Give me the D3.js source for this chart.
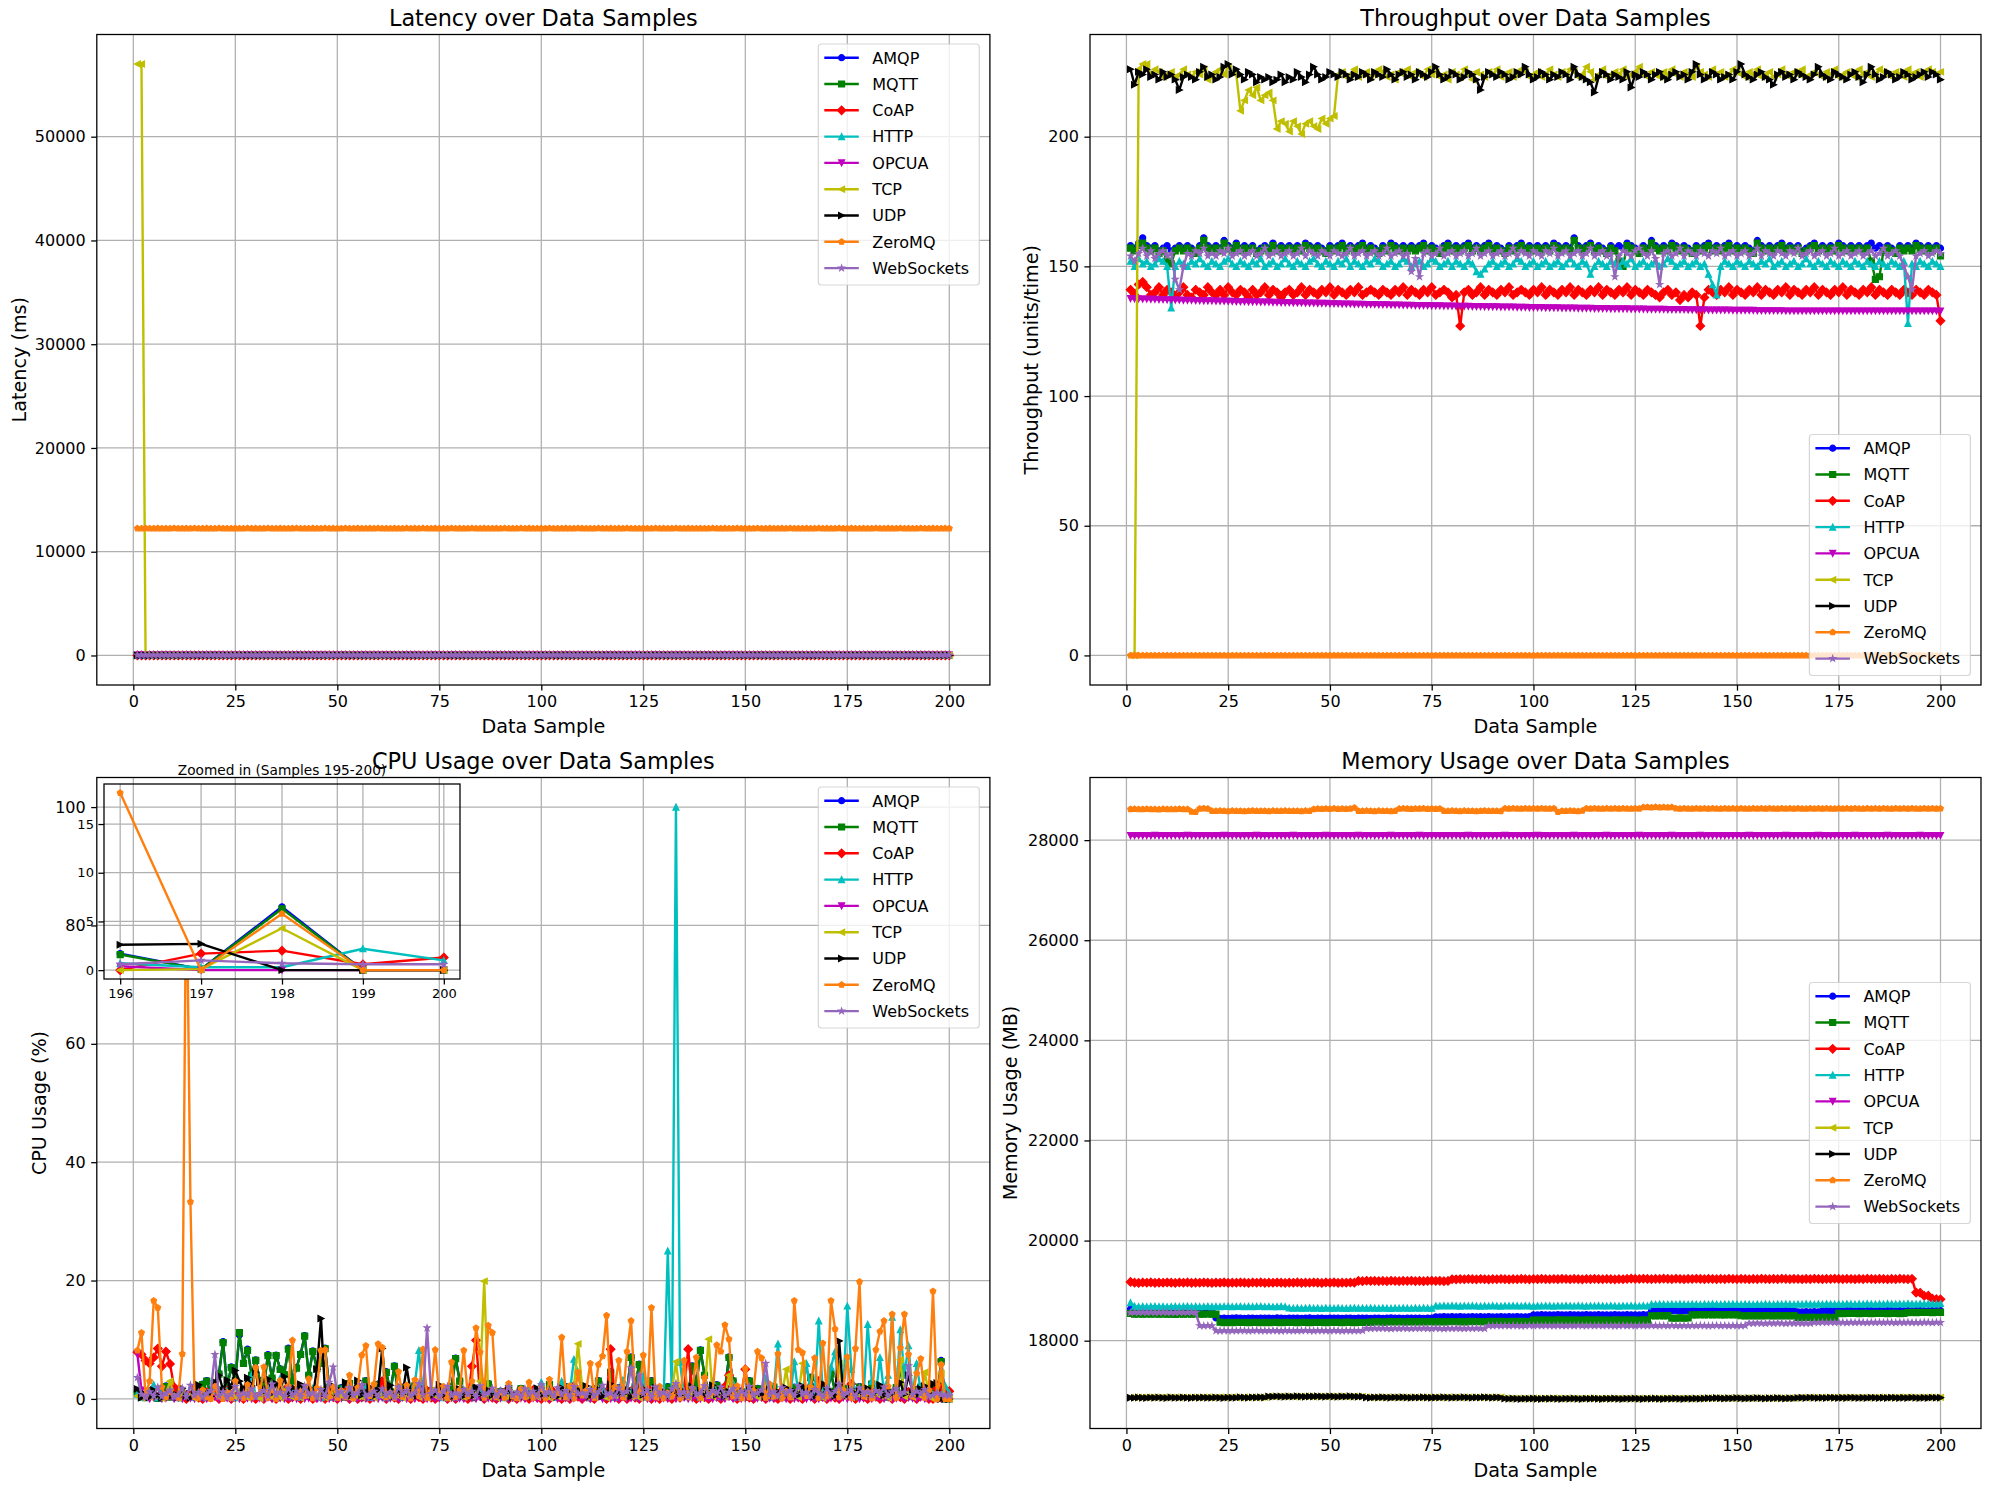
<!DOCTYPE html>
<html>
<head>
<meta charset="utf-8">
<script src="https://cdn.jsdelivr.net/npm/d3@7"></script>
<style>
  body { margin: 0; background: #fff; }
  svg { display: block; font-family: "DejaVu Sans", sans-serif; }
</style>
</head>
<body>
<svg id="chart" width="1990" height="1490"></svg>
<script>
// ---------- categories / ticks ----------
const protocols = ["AMQP", "MQTT", "CoAP", "HTTP", "OPCUA", "TCP", "UDP", "ZeroMQ", "WebSockets"];
const protoColors = ["#0000ff", "#008000", "#ff0000", "#00bfbf", "#bf00bf", "#bfbf00", "#000000", "#ff7f0e", "#9467bd"];
const protoMarkers = ["o", "s", "D", "^", "v", "<", ">", "p", "*"];
const xTicks = [0, 25, 50, 75, 100, 125, 150, 175, 200];
const latencyTicks = [0, 10000, 20000, 30000, 40000, 50000];
const throughputTicks = [0, 50, 100, 150, 200];
const cpuTicks = [0, 20, 40, 60, 80, 100];
const memoryTicks = [18000, 20000, 22000, 24000, 26000, 28000];
const insetXTicks = [196, 197, 198, 199, 200];
const insetYTicks = [0, 5, 10, 15];

// ---------- latency (ms) ----------
const latAMQP = [21,19,23,18,22,20,24,19,21,23,18,22,20,19,24,21,18,23,20,22,
19,21,24,18,20,23,19,22,21,18,24,20,19,23,21,22,18,20,24,19,
22,21,18,23,20,19,24,22,18,21,23,19,20,22,18,24,21,19,23,20,
18,22,21,24,19,20,23,18,22,21,19,24,20,18,23,22,19,21,20,24,
21,18,23,20,22,19,24,21,18,20,23,22,19,21,24,18,20,22,19,23,
20,24,18,21,22,19,23,20,18,24,21,22,19,20,23,18,21,24,19,22,
23,19,21,20,24,18,22,23,19,21,20,18,24,22,19,23,21,20,18,22,
19,24,20,21,23,18,22,19,24,20,21,23,18,22,20,19,24,21,18,23,
22,20,19,24,21,18,23,22,20,19,21,24,18,23,20,22,19,21,24,18,
20,23,21,19,22,24,18,20,23,21,19,22,24,20,18,21,23,19,22,20];
const latMQTT = [15,17,14,16,18,15,13,17,16,14,18,15,17,13,16,14,18,15,17,16,
14,16,18,15,13,17,16,14,18,15,17,13,16,15,14,18,17,15,13,16,
18,14,16,17,15,13,18,16,14,17,15,16,13,18,14,17,15,16,18,14,
13,17,15,16,18,14,17,13,16,15,18,14,17,16,13,15,18,16,14,17,
16,13,18,15,17,14,16,18,13,15,17,16,14,18,15,13,17,16,14,18,
15,17,14,16,13,18,15,17,16,14,18,13,15,17,16,14,18,15,13,17,
14,16,18,15,17,13,16,14,18,15,17,16,13,18,14,15,17,16,18,13,
17,15,14,18,16,13,17,15,16,14,18,17,13,15,16,18,14,17,15,13,
16,18,15,13,17,14,16,18,15,17,13,16,14,18,15,17,16,13,18,14,
15,13,17,16,14,18,15,17,13,16,14,18,15,16,17,13,18,14,16,15];
const latCoAP = [9,11,8,10,12,9,11,10,8,12,9,10,11,8,12,10,9,11,8,10,
12,9,11,10,8,12,9,10,11,8,10,12,9,11,8,10,9,12,11,8,
10,9,11,12,8,10,9,11,8,12,10,11,9,8,12,10,9,11,10,8,
11,12,9,10,8,11,12,9,10,8,11,9,12,10,8,11,9,10,12,8,
9,11,10,8,12,9,11,10,8,12,9,10,11,8,12,10,9,11,8,10,
12,9,11,10,8,12,9,10,11,8,10,12,9,11,8,10,9,12,11,8,
10,9,11,12,8,10,9,11,8,12,10,11,9,8,12,10,9,11,10,8,
11,12,9,10,8,11,12,9,10,8,11,9,12,10,8,11,9,10,12,8,
9,10,12,11,8,9,10,11,12,8,10,9,11,8,12,9,10,11,8,12,
10,11,9,8,12,10,9,11,8,10,12,9,11,10,8,12,9,10,11,9];
const latHTTP = [34,31,36,33,30,35,32,37,31,34,33,36,30,35,32,34,31,37,33,30,
36,32,34,31,35,33,30,37,32,34,31,36,33,35,30,32,37,34,31,33,
35,30,36,32,34,33,31,37,30,35,32,34,36,31,33,30,35,32,37,34,
31,33,36,30,34,32,35,31,37,33,30,34,36,32,31,35,33,30,37,34,
32,36,31,33,35,30,34,32,37,31,36,33,30,35,32,34,31,36,33,30,
35,32,37,34,31,33,36,30,34,32,35,31,37,33,30,34,36,32,31,35,
33,30,37,34,32,36,31,33,35,30,34,32,37,31,36,33,30,35,32,34,
31,36,33,30,35,32,37,34,31,33,36,30,34,32,35,31,37,33,30,34,
36,32,31,35,33,30,37,34,32,36,31,33,35,30,34,32,37,31,36,33,
30,35,32,34,31,36,33,30,35,32,37,34,31,33,36,30,34,32,35,33];
const latOPCUA = [27,25,28,26,24,29,27,25,28,26,24,27,29,25,26,28,24,27,25,29,
26,28,24,27,25,29,26,28,27,24,25,29,26,27,28,24,25,27,29,26,
28,24,27,25,26,29,28,24,25,27,26,29,24,28,25,27,26,24,29,28,
25,27,26,28,24,29,25,27,28,26,24,29,27,25,28,26,24,27,29,25,
26,28,24,27,25,29,26,28,27,24,25,29,26,27,28,24,25,27,29,26,
28,24,27,25,26,29,28,24,25,27,26,29,24,28,25,27,26,24,29,28,
25,27,26,28,24,29,25,27,28,26,24,29,27,25,28,26,24,27,29,25,
26,28,24,27,25,29,26,28,27,24,25,29,26,27,28,24,25,27,29,26,
28,24,27,25,26,29,28,24,25,27,26,29,24,28,25,27,26,24,29,28,
25,27,26,28,24,29,25,27,28,26,24,29,27,25,28,26,24,27,29,25];
const latTCP = [57000,57000,14,12,15,13,11,16,14,12,15,13,11,14,16,12,13,15,11,14,
12,16,13,15,11,14,12,13,16,15,11,14,12,16,13,11,15,14,12,13,
16,11,14,12,15,13,16,11,14,12,13,15,11,16,14,12,15,13,11,14,
13,15,11,14,16,12,13,15,11,14,12,16,13,15,11,14,12,13,16,15,
11,14,12,16,13,11,15,14,12,13,16,11,14,12,15,13,16,11,14,12,
13,15,11,16,14,12,15,13,11,14,13,15,11,14,16,12,13,15,11,14,
12,16,13,15,11,14,12,13,16,15,11,14,12,16,13,11,15,14,12,13,
16,11,14,12,15,13,16,11,14,12,13,15,11,16,14,12,15,13,11,14,
13,15,11,14,16,12,13,15,11,14,12,16,13,15,11,14,12,13,16,15,
11,14,12,16,13,11,15,14,12,13,16,11,14,12,15,13,16,11,14,12];
const latUDP = [6,8,5,7,9,6,8,7,5,9,6,7,8,5,9,7,6,8,5,7,
9,6,8,7,5,9,6,7,8,5,7,9,6,8,5,7,6,9,8,5,
7,6,8,9,5,7,6,8,5,9,7,8,6,5,9,7,6,8,7,5,
8,9,6,7,5,8,9,6,7,5,8,6,9,7,5,8,6,7,9,5,
6,8,7,5,9,6,8,7,5,9,6,7,8,5,9,7,6,8,5,7,
9,6,8,7,5,9,6,7,8,5,7,9,6,8,5,7,6,9,8,5,
7,6,8,9,5,7,6,8,5,9,7,8,6,5,9,7,6,8,7,5,
8,9,6,7,5,8,9,6,7,5,8,6,9,7,5,8,6,7,9,5,
6,7,9,8,5,6,7,8,9,5,7,6,8,5,9,6,7,8,5,9,
7,8,6,5,9,7,6,8,5,7,9,6,8,7,5,9,6,7,8,6];
const latZeroMQ = [12252,12248,12255,12250,12246,12253,12249,12251,12247,12254,12250,12248,12252,12246,12255,12249,12251,12253,12247,12250,
12254,12248,12251,12246,12253,12250,12249,12255,12247,12252,12248,12251,12254,12246,12250,12253,12249,12247,12252,12255,
12248,12250,12246,12253,12251,12249,12255,12247,12252,12248,12250,12254,12246,12251,12253,12249,12247,12252,12250,12255,
12246,12251,12248,12253,12250,12247,12254,12249,12252,12246,12255,12250,12248,12253,12251,12247,12249,12254,12246,12252,
12250,12248,12255,12251,12247,12253,12249,12246,12252,12250,12254,12248,12251,12247,12255,12249,12253,12246,12250,12252,
12248,12254,12250,12247,12251,12253,12246,12249,12255,12252,12248,12250,12247,12254,12251,12246,12253,12249,12252,12250,
12255,12247,12251,12248,12253,12250,12246,12254,12249,12252,12247,12251,12255,12248,12250,12253,12246,12249,12252,12251,
12247,12254,12250,12248,12253,12246,12251,12255,12249,12252,12250,12247,12254,12248,12251,12253,12246,12250,12252,12249,
12255,12248,12251,12247,12253,12250,12246,12254,12249,12252,12248,12251,12255,12247,12250,12253,12246,12249,12252,12250,
12248,12254,12251,12247,12253,12250,12246,12255,12249,12252,12248,12250,12254,12247,12251,12253,12246,12249,12252,12250];
const latWebSockets = [41,38,43,40,37,42,39,44,38,41,40,43,37,42,39,41,38,44,40,37,
43,39,41,38,42,40,37,44,39,41,38,43,40,42,37,39,44,41,38,40,
42,37,43,39,41,40,38,44,37,42,39,41,43,38,40,37,42,39,44,41,
38,40,43,37,41,39,42,38,44,40,37,41,43,39,38,42,40,37,44,41,
39,43,38,40,42,37,41,39,44,38,43,40,37,42,39,41,38,43,40,37,
42,39,44,41,38,40,43,37,41,39,42,38,44,40,37,41,43,39,38,42,
40,37,44,41,39,43,38,40,42,37,41,39,44,38,43,40,37,42,39,41,
38,43,40,37,42,39,44,41,38,40,43,37,41,39,42,38,44,40,37,41,
43,39,38,42,40,37,44,41,39,43,38,40,42,37,41,39,44,38,43,40,
37,42,39,41,38,43,40,37,42,39,44,41,38,40,43,37,41,39,42,40];

// ---------- throughput (units/time) ----------
const tpAMQP = [158,157,159,161,158,157,158,156,157,158,156,157,158,157,158,157,156,158,161,158,
157,158,157,160,158,157,159,157,158,157,158,156,157,158,157,159,157,158,157,158,
157,158,157,159,158,157,158,157,156,158,157,158,159,157,158,157,158,159,157,158,
157,156,158,157,159,158,157,158,157,158,157,158,159,157,158,157,156,158,159,157,
158,157,158,159,157,158,157,158,159,157,158,157,156,158,157,158,159,157,158,157,
158,157,158,157,159,158,157,158,157,161,158,157,158,159,157,158,157,156,158,157,
158,157,159,158,157,156,158,157,160,158,157,158,157,159,158,157,158,157,156,158,
157,158,159,157,158,157,158,159,157,158,157,158,157,156,160,158,157,158,157,158,
159,157,158,157,158,156,157,158,159,157,158,157,158,157,159,158,157,158,157,158,
157,158,159,157,158,157,158,157,156,158,157,158,157,159,158,157,158,157,158,157];
const tpMQTT = [157,156,158,159,157,156,157,155,156,152,151,156,157,156,157,156,155,157,160,157,
156,157,156,159,157,156,158,156,157,156,157,155,156,157,156,158,156,157,156,157,
156,157,156,158,157,156,157,156,155,157,156,157,158,156,157,156,157,158,156,157,
156,155,157,156,158,157,156,157,156,157,156,157,158,156,157,156,155,157,158,156,
157,156,157,158,156,157,156,157,158,156,157,156,155,157,156,157,158,156,157,156,
157,156,157,156,158,157,156,157,156,160,157,156,157,158,156,157,156,155,157,156,
152,150,158,157,156,155,157,156,159,157,156,157,156,158,157,156,157,156,155,157,
156,157,158,156,157,156,157,158,156,157,156,157,156,155,159,157,156,157,156,157,
158,156,157,156,157,155,156,157,158,156,157,156,157,156,158,157,156,157,156,157,
156,157,152,145,146,156,157,156,155,157,156,157,156,158,157,156,157,156,157,154];
const tpCoAP = [141,139,143,144,142,139,140,142,139,141,140,138,140,142,139,138,141,140,139,142,
140,139,141,139,142,140,139,141,140,138,141,139,140,142,139,141,140,138,140,141,
139,140,142,139,141,140,139,141,140,142,139,141,140,139,141,140,142,139,140,141,
140,139,141,140,139,141,140,142,139,141,140,139,141,140,142,139,140,141,140,138,
139,127,140,141,139,140,142,139,141,140,139,141,140,142,139,140,141,140,139,141,
140,142,139,141,140,139,141,140,142,139,141,140,139,141,140,142,139,141,140,139,
141,140,142,139,141,140,139,141,140,139,138,140,141,139,140,137,139,138,140,139,
127,138,141,140,139,141,140,142,139,141,140,139,141,140,142,139,141,140,139,141,
140,142,139,141,140,139,141,140,142,139,141,140,139,141,140,142,139,141,140,139,
141,140,142,139,141,140,139,141,140,139,141,140,139,141,140,139,141,140,139,129];
const tpHTTP = [152,150,153,151,152,150,151,153,152,150,134,150,152,151,150,152,151,153,151,150,
152,151,150,152,153,151,150,152,151,150,152,151,153,150,151,152,150,151,153,151,
150,152,151,150,152,153,151,150,152,151,150,152,151,153,150,152,151,150,152,151,
153,152,150,151,152,150,151,153,152,150,151,152,150,151,153,152,150,151,152,150,
152,151,150,152,151,148,147,149,151,152,150,151,152,150,151,153,152,150,151,152,
150,151,152,150,151,152,150,151,153,151,150,152,151,147,150,152,151,150,152,151,
150,152,151,153,150,151,152,150,151,152,150,151,153,152,150,151,152,150,151,152,
150,151,147,143,139,150,152,151,150,152,151,150,152,151,150,152,151,153,150,151,
152,150,151,152,150,151,153,151,150,152,151,150,152,151,150,152,151,150,152,151,
150,152,151,150,152,151,150,152,151,150,152,128,151,150,152,151,150,152,151,150];
const tpOPCUA = [137.6,137.5,137.5,137.4,137.4,137.3,137.3,137.2,137.2,137.1,137.1,137.0,137.0,136.9,136.9,136.9,136.8,136.8,136.7,136.7,
136.7,136.6,136.6,136.6,136.5,136.5,136.4,136.4,136.4,136.3,136.3,136.3,136.2,136.2,136.2,136.1,136.1,136.0,136.0,136.0,
135.9,135.9,135.9,135.8,135.8,135.8,135.7,135.7,135.7,135.6,135.6,135.6,135.5,135.5,135.5,135.4,135.4,135.4,135.3,135.3,
135.3,135.2,135.2,135.2,135.1,135.1,135.1,135.0,135.0,135.0,134.9,134.9,134.9,134.9,134.8,134.8,134.8,134.7,134.7,134.7,
134.6,134.6,134.6,134.6,134.5,134.5,134.5,134.4,134.4,134.4,134.4,134.3,134.3,134.3,134.3,134.2,134.2,134.2,134.1,134.1,
134.1,134.1,134.0,134.0,134.0,134.0,133.9,133.9,133.9,133.9,133.8,133.8,133.8,133.8,133.7,133.7,133.7,133.7,133.6,133.6,
133.6,133.6,133.6,133.5,133.5,133.5,133.5,133.4,133.4,133.4,133.4,133.4,133.3,133.3,133.3,133.3,133.3,133.2,133.2,133.2,
133.2,133.2,133.1,133.1,133.1,133.1,133.1,133.1,133.0,133.0,133.0,133.0,133.0,133.0,132.9,132.9,132.9,132.9,132.9,132.9,
132.9,132.8,132.8,132.8,132.8,132.8,132.8,132.8,132.8,132.8,132.8,132.8,132.8,132.8,132.8,132.8,132.8,132.8,132.8,132.8,
132.8,132.8,132.8,132.8,132.8,132.8,132.8,132.8,132.8,132.8,132.8,132.8,132.8,132.8,132.8,132.8,132.8,132.8,132.8,132.8];
const tpTCP = [0,0,226,228,228,224,226,225,223,224,225,223,224,226,224,223,225,224,226,222,
223,225,226,224,227,225,224,210,214,218,216,219,214,216,217,214,203,206,205,202,
206,204,201,205,206,204,203,207,205,207,208,224,225,223,224,226,223,224,225,223,
224,226,225,223,224,222,225,224,226,223,225,224,223,226,224,225,223,224,222,225,
224,223,226,224,222,225,224,223,225,224,226,223,224,225,223,224,226,225,223,224,
225,223,224,226,224,223,225,224,226,225,223,224,227,225,222,224,226,223,224,225,
224,226,223,224,225,227,224,223,225,224,223,225,224,226,224,223,225,224,223,227,
225,224,223,226,224,225,223,224,226,225,224,223,225,224,226,223,224,225,223,224,
226,224,223,225,224,226,223,224,225,224,223,225,224,226,223,224,225,224,223,226,
224,225,223,224,226,225,224,223,225,224,223,226,224,225,223,224,226,225,224,225];
const tpUDP = [226,220,225,224,226,223,224,222,225,223,224,222,218,223,224,223,222,225,227,223,
224,222,223,227,228,224,226,224,222,225,224,221,223,222,223,221,222,224,221,223,
222,225,223,221,224,227,224,222,223,225,224,223,225,224,222,224,223,225,224,222,
225,224,223,226,224,222,224,225,223,224,222,225,224,223,225,227,224,222,223,225,
224,222,223,225,224,222,218,223,225,224,223,225,224,222,223,225,224,227,224,222,
223,225,224,222,224,223,225,224,222,227,224,223,222,221,217,223,225,224,222,224,
223,222,225,219,224,223,225,224,222,224,225,223,222,224,225,223,224,222,225,228,
224,222,223,225,224,222,223,224,222,225,228,224,223,222,224,225,223,222,220,224,
225,223,224,222,225,224,223,222,224,227,224,223,222,225,224,223,222,224,225,223,
221,224,227,224,222,223,225,224,222,223,225,224,222,223,224,225,223,225,224,222];
const tpZeroMQ = [0,0,0,0,0,0,0,0,0,0,0,0,0,0,0,0,0,0,0,0,
0,0,0,0,0,0,0,0,0,0,0,0,0,0,0,0,0,0,0,0,
0,0,0,0,0,0,0,0,0,0,0,0,0,0,0,0,0,0,0,0,
0,0,0,0,0,0,0,0,0,0,0,0,0,0,0,0,0,0,0,0,
0,0,0,0,0,0,0,0,0,0,0,0,0,0,0,0,0,0,0,0,
0,0,0,0,0,0,0,0,0,0,0,0,0,0,0,0,0,0,0,0,
0,0,0,0,0,0,0,0,0,0,0,0,0,0,0,0,0,0,0,0,
0,0,0,0,0,0,0,0,0,0,0,0,0,0,0,0,0,0,0,0,
0,0,0,0,0,0,0,0,0,0,0,0,0,0,0,0,0,0,0,0,
0,0,0,0,0,0,0,0,0,0,0,0,0,0,0,0,0,0,0,0];
const tpWebSockets = [154,152,155,157,154,156,153,155,156,154,155,145,141,150,155,154,156,155,157,154,
155,154,156,155,157,154,155,156,154,155,156,154,155,157,154,155,156,154,155,156,
154,155,157,154,156,155,154,156,155,154,156,155,154,155,157,154,155,156,154,155,
156,154,155,157,154,155,156,154,155,148,153,146,155,156,154,155,157,154,155,156,
154,155,156,154,155,157,154,155,156,154,155,156,154,155,157,154,156,155,154,156,
155,154,156,155,157,154,155,156,154,155,156,154,155,157,154,155,156,154,155,146,
154,156,155,154,156,157,155,154,156,153,143,155,156,154,155,157,154,156,155,154,
156,155,154,156,155,157,154,155,156,154,155,156,154,155,157,154,156,155,154,156,
155,154,156,155,157,154,155,156,154,155,156,154,155,157,154,155,156,154,155,156,
154,155,156,154,155,157,154,155,156,154,150,146,141,154,155,156,154,155,156,155];

// ---------- CPU usage (%) ----------
const cpuAMQP = [1.2,0.5,0.3,1.4,0.8,0.2,1.0,2.2,0.4,0.6,1.3,0.3,0.9,0.5,1.7,0.4,2.5,3.1,0.8,1.9,
4.3,9.7,2.1,5.4,3.2,10.8,6.1,8.4,4.1,6.6,3.1,2.3,7.5,3.6,7.4,5.1,4.2,8.6,3.1,5.3,
7.6,10.7,4.1,8.1,5.2,6.1,8.6,2.1,1.1,0.6,1.9,0.4,2.7,1.0,1.6,0.3,3.1,0.7,1.2,2.5,
0.9,4.6,1.3,5.6,0.5,2.0,0.4,1.1,2.3,0.6,2.6,0.8,1.5,0.3,1.0,1.7,0.5,2.1,6.9,3.1,
0.7,1.4,0.3,0.9,1.8,0.5,2.6,1.0,0.4,1.3,0.6,1.9,0.3,0.8,1.8,0.5,1.2,0.4,1.0,1.6,
0.4,2.5,0.7,1.1,0.3,2.1,0.9,0.5,1.4,0.6,1.0,0.3,1.7,3.1,0.8,1.3,4.6,0.5,1.9,0.7,
1.5,7.1,2.2,5.9,1.0,1.6,3.1,0.5,1.2,0.4,2.1,0.9,1.5,0.6,2.0,0.7,5.6,2.3,8.3,4.1,
1.1,0.5,2.4,1.0,1.6,7.1,3.1,0.7,1.3,0.4,3.1,0.9,1.8,0.5,1.2,0.6,2.1,1.0,0.4,1.5,
0.8,2.0,0.5,1.3,0.7,3.7,1.1,0.4,1.6,0.9,4.3,1.4,0.6,1.9,1.0,0.5,1.3,2.1,0.7,1.1,
2.6,0.9,1.5,0.4,1.2,0.8,2.0,5.1,1.3,0.5,1.0,1.6,2.1,0.7,1.1,1.7,0.1,6.5,0,0];
const cpuMQTT = [1.0,0.4,0.2,1.3,0.6,0.1,0.9,2.1,0.3,0.5,1.2,0.2,0.8,0.4,1.6,0.3,2.4,3.0,0.7,1.8,
4.2,9.5,2.0,5.3,3.1,11.2,6.0,8.2,4.0,6.5,3.0,2.2,7.3,3.5,7.3,5.0,4.1,8.4,3.0,5.2,
7.5,10.6,4.0,8.0,5.1,6.0,8.5,2.0,1.0,0.5,1.8,0.3,2.6,0.9,1.5,0.2,3.0,0.6,1.1,2.4,
0.8,4.5,1.2,5.5,0.4,1.9,0.3,1.0,2.2,0.5,2.5,0.7,1.4,0.2,0.9,1.6,0.4,2.0,6.8,3.0,
0.6,1.3,0.2,0.8,1.7,0.4,2.5,0.9,0.3,1.2,0.5,1.8,0.2,0.7,1.7,0.4,1.1,0.3,0.9,1.5,
0.3,2.4,0.6,1.0,0.2,2.0,0.8,0.4,1.3,0.5,0.9,0.2,1.6,3.0,0.7,1.2,4.5,0.4,1.8,0.6,
1.4,7.0,2.1,5.8,0.9,1.5,3.0,0.4,1.1,0.3,2.0,0.8,1.4,0.5,1.9,0.6,5.5,2.2,8.2,4.0,
1.0,0.4,2.3,0.9,1.5,7.0,3.0,0.6,1.2,0.3,3.0,0.8,1.7,0.4,1.1,0.5,2.0,0.9,0.3,1.4,
0.7,1.9,0.4,1.2,0.6,3.6,1.0,0.3,1.5,0.8,4.2,1.3,0.5,1.8,0.9,0.4,1.2,2.0,0.6,1.0,
2.5,0.8,1.4,0.3,1.1,0.7,1.9,5.0,1.2,0.4,0.9,1.5,2.0,0.6,1.0,1.6,0.1,6.3,0,0];
const cpuCoAP = [7.9,7.5,6.5,6.0,7.0,8.5,5.5,8.0,5.9,2.0,0.4,1.2,0,0.6,1.8,0.2,0,1.1,0.3,0.8,
0,0.5,1.4,0,0.3,0.9,0,2.0,0.4,0,0.7,0,1.3,0.2,0,0.6,1.5,0,0.3,0.9,
0,0.4,1.0,0,0.2,0.8,0,1.6,0.3,0,0.5,1.1,0,0.7,0,0.3,1.9,0,0.4,0.6,
3.0,0,0.8,0.2,0,1.2,0.5,0,0.9,0.3,0,1.4,0.2,0,0.6,1.0,0,0.4,0,0.8,
0.3,0,5.5,9.9,0.5,0,1.3,0.2,0,0.7,1.1,0,0.4,0,0.9,0.3,0,1.5,0.2,0,
0.6,0,1.2,0.3,0,0.8,0,2.2,0.4,0,0.9,0.2,0,1.0,0.5,0,8.4,0.3,0,0.7,
0,1.3,0.2,0,0.6,1.8,0,0.4,0,1.1,0.3,0,0.9,0.2,1.6,8.4,0.5,0,0.8,0.3,
0,1.2,0.4,0,2.1,4.0,0.3,0,0.7,5.0,0.2,0,1.0,0.4,0,0.8,0.2,0,1.4,0.5,
0,0.9,0.3,0,1.2,0.5,0,3.0,0.4,0,0.8,0.2,0,1.1,0.5,2.5,0,0.7,0.3,0,
1.0,0.4,0,1.6,0.6,0,0.9,0.3,0,1.2,0.5,0,0.8,0.4,0,0,1.7,2.0,0.6,1.3];
const cpuHTTP = [0.8,0.3,1.1,0.5,2.4,0.2,0.9,0.4,1.3,0.6,0.2,1.0,0.5,0.3,1.7,0.4,0.8,0.2,1.2,0.5,
0.9,0.3,1.4,0.6,0.2,1.1,0.4,2.0,4.0,0.5,0.8,0.3,1.5,0.6,0.2,3.5,0.9,0.4,1.2,0.5,
0.3,1.0,0.6,1.8,0.4,0.2,1.3,0.7,0.3,0.9,1.6,0.4,0.8,0.2,1.1,0.5,2.0,0.3,0.7,1.4,
0.5,0.2,1.0,0.6,1.9,0.3,0.8,0.4,2.5,8.2,0.6,0.3,1.2,0.5,0.9,0.2,1.4,0.6,0.3,1.1,
0.4,0.8,2.3,0.5,1.0,0.3,0.7,1.5,0.4,0.9,0.2,1.3,0.6,0.3,1.0,0.5,1.8,0.4,0.7,2.8,
0.5,1.1,0.3,0.8,3.0,0.4,1.2,6.7,4.5,0.6,1.5,0.3,0.9,0.5,1.2,0.4,0.8,0.3,1.0,3.2,
0.5,1.3,0.4,0.8,4.0,0.3,1.1,0.6,0.9,0.4,25.0,0.5,100.0,6.2,0.4,1.0,0.6,1.3,0.3,0.8,
0.5,3.0,1.1,0.4,0.9,0.6,2.7,0.3,1.2,0.5,0.8,0.4,1.0,0.6,3.5,0.3,1.4,9.3,0.5,1.1,
0.4,6.3,0.9,0.5,6.0,1.2,0.4,13.2,0.8,0.5,5.4,8.0,0.6,1.3,15.7,5.0,0.4,1.0,0.7,12.6,
3.0,0.5,7.0,1.1,4.0,13.8,0.6,11.7,4.0,9.0,0.5,6.0,1.2,0.4,0.8,0.7,0.3,0.3,2.2,1.0];
const cpuOPCUA = [7.6,1.5,0.3,0,0.2,0.5,0,0.1,0.4,0,0.2,0,0.3,0.1,0,0.4,0.2,0,0.1,0.3,
0,0.2,0.1,0,0.3,0,0.2,0.1,0,0.4,0.1,0,0.2,0,0.3,0.1,0,0.2,0.1,0,
0.3,0,0.1,0.2,0,0.1,0.4,0,0.2,0,0.1,0.3,0,0.2,0,0.1,0,0.3,0.1,0,
0.2,0,0.1,0.3,0,0.2,0,0.1,0,0.4,0.1,0,0.2,0,0.1,0.3,0,0.2,0,0.1,
0,0.2,0.1,0,0.3,0,0.1,0.2,0,0.1,0.3,0,0.2,0,0.1,0,0.4,0.1,0,0.2,
0.1,0,0.3,0,0.2,0.1,0,0.1,0.3,0,0.2,0,0.1,0.4,0,0.2,0,0.1,0,0.3,
0,0.1,0.2,0,0.3,0,0.1,0,0.2,0.1,0,0.3,0,0.1,0.2,0,0.1,0.4,0,0.2,
0.1,0,0.2,0.1,0,0.3,0,0.2,0,0.1,0.3,0,0.1,0.2,0,0.1,0,0.3,0.1,0,
0.2,0,0.1,0.3,0,0.2,0.1,0,0.2,0,0.1,0.3,0,0.2,0,0.1,0.4,0,0.1,0.2,
0,0.3,0.1,0,0.2,0,0.1,0.3,0,0.2,0.1,0,0.2,0,0.1,0.4,0,0,0,0];
const cpuTCP = [0.5,0.2,0.9,0.3,1.2,0.4,0.1,0.8,3.0,0.5,0.2,1.0,0.3,0.6,0.1,0.9,0.4,0.2,1.3,2.5,
0.4,0.7,0.2,1.1,0.3,0.5,1.6,0.2,0.8,0.4,0.1,1.2,0.5,0.3,0.9,0.2,1.4,0.6,0.3,0.8,
0.2,1.0,0.4,0.7,0.3,1.5,0.2,0.6,0.9,0.3,0.5,1.1,0.2,0.8,0.4,0.3,1.3,0.6,0.2,0.9,
0.4,0.7,0.3,1.2,0.5,0.2,0.8,0.4,1.0,0.3,0.6,0.2,1.4,0.5,0.3,0.9,0.2,0.7,1.1,0.4,
0.3,0.8,0.5,1.2,3.0,19.9,0.4,0.7,0.2,1.0,0.5,0.3,0.9,0.2,1.3,0.6,0.4,0.8,0.3,1.1,
0.5,0.2,0.9,0.4,1.2,0.3,0.7,2.0,9.3,2.0,0.4,0.8,0.3,1.1,0.5,0.2,0.9,0.6,1.4,0.3,
0.7,0.4,1.0,0.2,0.8,0.5,1.3,0.3,0.6,0.9,0.4,1.2,6.3,0.5,0.8,0.3,1.1,0.6,0.2,0.9,
10.1,0.4,0.8,1.2,0.3,4.0,0.6,0.9,0.2,1.1,0.5,0.8,0.3,1.3,0.6,0.4,1.0,0.3,0.7,5.0,
0.4,0.9,0.3,6.0,0.6,1.1,0.4,0.8,0.2,1.0,0.5,1.3,6.0,0.4,0.9,0.3,1.2,0.6,0.4,0.8,
0.3,1.1,0.5,0.8,0.2,1.4,0.6,6.6,0.4,0.9,0.3,1.2,0.5,4.5,0.7,0,0.1,4.3,0,0];
const cpuUDP = [1.7,0.2,0.8,0.3,1.5,0.6,0.2,1.1,0.4,0.9,0.3,1.8,0.5,0.2,1.0,2.4,0.6,1.3,0.4,2.9,
4.0,1.5,3.2,2.0,4.8,3.0,1.6,3.6,2.2,4.5,2.8,1.2,3.4,0.9,2.6,1.4,3.8,0.7,2.0,1.1,
2.5,0.8,1.9,0.5,5.0,13.6,1.0,0.6,2.2,0.9,1.4,2.8,0.4,1.7,3.1,0.6,1.2,2.0,0.5,1.5,
8.5,1.0,2.3,0.4,1.6,0.8,5.3,1.1,0.3,2.1,0.7,1.4,0.5,1.0,2.4,0.6,1.3,0.3,0.9,1.7,
0.5,1.2,0.4,2.0,0.8,0.3,1.5,0.6,1.1,0.4,0.9,1.6,0.3,0.8,1.3,0.5,1.0,0.4,1.8,0.7,
0.5,1.3,0.8,0.4,1.9,0.6,1.1,0.3,1.5,0.7,2.2,0.5,1.0,1.7,0.4,0.9,2.5,0.6,1.2,0.8,
1.6,0.4,1.1,2.0,0.7,1.4,0.5,1.9,0.8,1.2,0.4,1.0,1.7,0.6,1.3,0.5,2.1,0.9,1.4,0.6,
1.0,2.3,0.7,1.5,0.4,1.2,0.8,1.8,0.5,1.1,2.0,0.6,1.4,0.9,0.4,1.6,0.7,1.2,0.5,1.9,
0.8,1.3,0.6,2.2,0.9,1.5,0.4,1.1,2.6,0.7,1.4,0.5,9.8,1.0,0.6,1.7,0.9,1.3,0.5,1.8,
0.7,1.2,2.4,0.6,1.5,0.9,1.3,2.8,0.8,4.0,1.1,0.6,1.7,2.2,1.0,2.6,2.7,0,0,0];
const cpuZeroMQ = [8.2,11.2,0.5,3.0,16.6,15.4,2.0,0.3,1.2,0.5,0.2,7.6,92.0,33.3,0.4,0.2,1.5,0.3,0,2.1,
0.4,0,1.1,0.2,3.0,0.5,0.1,2.4,0.3,5.3,0.8,5.4,0.2,1.6,0,3.1,0.4,2.2,9.9,0.3,
1.2,0.5,3.4,0.1,1.8,8.2,8.3,0.4,2.0,0.2,1.4,0.3,4.0,0.1,1.9,7.4,9.0,0.5,2.5,9.3,
8.7,0.3,1.0,0.2,4.6,0.4,2.3,0.1,3.2,0.5,8.4,0.2,1.3,8.3,0.4,2.1,0.1,6.2,0.3,1.5,
8.2,0.4,3.0,12.0,7.9,0.2,12.4,11.2,0.3,1.1,0.2,2.6,0.4,0.1,1.7,0.3,2.8,0.2,0.5,1.9,
0.1,3.3,0.4,1.0,10.4,0.3,2.2,0.1,4.5,0.6,1.4,6.0,0.2,5.8,7.2,14.1,0.4,2.0,6.5,0.3,
8.0,13.2,0.5,1.2,7.4,0.2,15.4,0.3,2.1,0.1,1.0,0.4,2.4,0.1,6.5,0.3,1.8,7.0,0.2,3.6,
0.5,1.1,9.1,8.0,12.5,10.1,0.4,2.2,0.1,5.1,0.3,1.4,8.0,6.9,0.2,2.5,0.4,7.6,0.1,1.3,
0.3,16.6,8.3,7.8,0.5,2.0,6.9,0.2,9.4,0.4,16.6,11.8,0.3,1.5,7.1,0.2,8.5,19.8,0.4,1.2,
0.1,8.3,11.4,13.2,2.1,14.3,0.2,8.6,14.3,7.5,0.4,4.3,6.8,0.2,1.5,18.2,0,5.8,0,0];
const cpuWebSockets = [3.6,0.8,0.3,1.2,0.5,2.0,0.4,0.9,1.5,0.3,0.7,1.8,0.4,2.3,0.6,1.1,0.3,0.9,1.4,7.5,
0.5,1.2,0.3,0.8,2.1,0.4,1.0,0.6,1.7,0.3,0.9,1.4,0.5,2.5,0.7,1.1,0.4,1.8,0.6,1.3,
0.4,2.2,0.8,1.0,0.3,1.6,0.5,2.8,5.4,0.7,1.2,0.4,1.9,0.6,1.0,2.4,0.5,0.8,1.3,0.4,
1.7,0.6,1.1,0.3,2.0,0.8,1.4,0.5,1.0,2.6,0.7,12.0,0.9,1.5,0.4,1.2,2.1,0.6,1.0,0.5,
1.6,0.8,1.3,0.4,2.2,0.7,1.0,1.8,0.5,1.4,0.9,2.0,0.6,1.1,0.4,1.7,0.8,1.3,0.5,2.4,
0.7,1.2,0.5,1.9,0.8,1.4,0.4,2.1,0.9,1.0,0.6,1.6,0.5,1.2,2.3,0.7,1.0,0.4,1.8,0.8,
1.3,5.2,0.6,4.0,0.9,1.5,0.4,2.0,0.8,1.1,0.5,1.7,2.6,0.7,1.2,0.4,1.9,0.8,1.0,2.2,
0.6,1.4,0.9,2.0,0.5,1.1,1.7,0.4,1.3,0.8,2.1,0.6,1.0,1.5,6.0,0.7,1.2,0.5,1.9,0.9,
1.4,0.6,2.2,0.8,1.1,0.5,1.6,1.0,0.4,1.8,0.7,1.3,2.5,0.6,1.0,1.5,0.4,1.9,0.8,1.2,
0.6,1.4,0.9,2.0,0.5,1.2,1.7,0.8,1.1,5.6,0.7,1.3,0.9,1.6,0.5,0.6,1.0,0.7,0.6,0.6];

// ---------- memory usage (MB) ----------
const memAMQP = [18630,18600,18595,18605,18598,18602,18596,18600,18604,18597,18601,18595,18603,18599,18597,18602,18598,18600,18596,18601,
18598,18455,18448,18452,18446,18450,18455,18449,18447,18452,18450,18446,18453,18449,18451,18447,18454,18450,18448,18452,
18449,18453,18447,18451,18455,18448,18450,18452,18446,18451,18449,18453,18447,18450,18452,18448,18451,18449,18453,18447,
18450,18452,18448,18451,18455,18449,18452,18447,18450,18453,18449,18451,18448,18452,18450,18478,18475,18480,18476,18479,
18477,18481,18475,18478,18480,18476,18479,18477,18481,18475,18478,18480,18476,18479,18477,18481,18478,18476,18480,18517,
18515,18519,18516,18518,18514,18520,18517,18515,18519,18516,18518,18514,18520,18517,18515,18519,18516,18518,18514,18520,
18517,18515,18519,18516,18518,18514,18520,18517,18597,18600,18595,18599,18596,18601,18598,18594,18600,18597,18602,18630,
18628,18632,18629,18631,18627,18600,18596,18599,18597,18601,18598,18595,18600,18597,18602,18599,18596,18600,18598,18601,
18597,18600,18596,18599,18578,18575,18579,18576,18580,18577,18597,18600,18596,18601,18598,18595,18599,18602,18597,18600,
18596,18599,18601,18598,18600,18597,18602,18599,18596,18600,18598,18601,18597,18600,18602,18598,18596,18600,18599,18601];
const memMQTT = [18545,18530,18535,18528,18533,18531,18536,18529,18534,18530,18532,18527,18535,18530,18533,18529,18534,18531,18528,18533,
18530,18532,18370,18362,18366,18360,18368,18363,18365,18361,18367,18364,18360,18366,18362,18368,18365,18361,18367,18363,
18366,18362,18368,18364,18360,18367,18363,18365,18361,18368,18364,18366,18362,18369,18365,18361,18367,18363,18366,18370,
18374,18378,18372,18376,18380,18375,18379,18373,18377,18381,18376,18380,18374,18378,18382,18377,18381,18375,18379,18383,
18378,18382,18376,18380,18384,18379,18383,18377,18381,18385,18380,18384,18378,18382,18386,18381,18385,18379,18383,18411,
18409,18413,18410,18412,18408,18414,18411,18409,18413,18410,18412,18408,18414,18411,18409,18413,18410,18412,18408,18414,
18411,18409,18413,18410,18412,18408,18414,18411,18498,18495,18500,18497,18499,18452,18448,18455,18450,18453,18517,18514,
18519,18516,18518,18514,18520,18517,18515,18519,18516,18518,18498,18495,18500,18497,18499,18496,18501,18498,18494,18500,
18497,18499,18496,18500,18465,18462,18467,18464,18466,18463,18468,18465,18462,18467,18544,18541,18546,18543,18545,18542,
18547,18544,18541,18546,18543,18545,18542,18547,18544,18541,18546,18560,18564,18561,18566,18563,18565,18562,18567,18564];
const memCoAP = [19175,19160,19155,19162,19158,19164,19156,19161,19157,19163,19159,19154,19162,19158,19165,19156,19160,19157,19163,19159,
19155,19161,19158,19164,19156,19160,19157,19163,19159,19154,19162,19158,19165,19156,19160,19157,19163,19159,19155,19161,
19158,19164,19156,19160,19157,19163,19159,19154,19162,19158,19165,19156,19160,19157,19163,19159,19194,19190,19197,19192,
19196,19191,19195,19189,19198,19193,19190,19196,19192,19197,19191,19195,19189,19194,19198,19192,19196,19190,19195,19228,
19225,19231,19227,19233,19229,19226,19232,19228,19224,19230,19227,19233,19229,19225,19231,19228,19234,19230,19226,19232,
19229,19235,19231,19227,19233,19229,19236,19232,19228,19234,19230,19226,19232,19229,19235,19231,19227,19233,19229,19225,
19231,19228,19234,19240,19236,19232,19238,19234,19230,19236,19233,19239,19235,19231,19237,19233,19229,19235,19232,19238,
19234,19230,19236,19232,19229,19235,19231,19237,19233,19230,19236,19232,19228,19234,19231,19237,19233,19229,19235,19231,
19238,19234,19230,19236,19232,19228,19234,19231,19237,19233,19229,19235,19232,19238,19234,19230,19236,19232,19229,19235,
19231,19237,19233,19230,19236,19232,19228,19234,19231,19237,19233,19229,19235,18962,18958,18896,18900,18840,18830,18826];
const memHTTP = [18760,18690,18680,18686,18679,18684,18688,18681,18685,18678,18683,18687,18680,18684,18689,18682,18686,18679,18683,18688,
18681,18685,18679,18684,18687,18680,18683,18686,18679,18684,18681,18685,18688,18680,18683,18678,18682,18686,18680,18655,
18650,18654,18648,18652,18656,18650,18653,18647,18655,18651,18648,18654,18650,18646,18652,18656,18649,18653,18650,18655,
18651,18648,18654,18650,18646,18653,18649,18655,18651,18648,18654,18650,18656,18652,18649,18697,18693,18699,18695,18700,
18696,18692,18698,18694,18700,18695,18691,18697,18693,18699,18695,18692,18698,18694,18700,18696,18693,18699,18695,18691,
18697,18694,18700,18696,18692,18698,18695,18701,18697,18693,18699,18695,18692,18698,18694,18700,18696,18693,18699,18695,
18692,18698,18694,18700,18696,18693,18699,18695,18730,18727,18733,18729,18726,18732,18728,18734,18730,18727,18733,18729,
18725,18731,18728,18734,18730,18726,18732,18729,18735,18731,18727,18733,18729,18725,18731,18728,18734,18730,18726,18732,
18729,18735,18731,18727,18733,18729,18736,18732,18728,18734,18730,18737,18733,18729,18735,18731,18738,18734,18730,18736,
18732,18739,18735,18731,18737,18733,18740,18736,18732,18738,18734,18741,18737,18733,18739,18735,18742,18738,18734,18743];
const memOPCUA = [28090,28088,28092,28089,28091,28087,28093,28090,28088,28091,28089,28092,28087,28090,28093,28088,28091,28089,28092,28090,
28087,28091,28089,28093,28088,28090,28092,28087,28091,28089,28090,28093,28088,28091,28087,28092,28089,28090,28088,28091,
28093,28087,28090,28092,28089,28088,28091,28090,28093,28087,28089,28092,28090,28088,28091,28089,28093,28087,28090,28092,
28088,28091,28089,28090,28093,28087,28092,28089,28091,28088,28090,28093,28087,28091,28089,28092,28090,28088,28091,28089,
28092,28087,28090,28093,28088,28091,28089,28090,28092,28087,28091,28089,28093,28088,28090,28092,28087,28091,28089,28090,
28093,28088,28091,28087,28092,28089,28090,28088,28091,28093,28087,28090,28092,28089,28088,28091,28090,28093,28087,28089,
28092,28090,28088,28091,28089,28093,28087,28090,28092,28088,28091,28089,28090,28093,28087,28092,28089,28091,28088,28090,
28093,28087,28091,28089,28092,28090,28088,28091,28089,28092,28087,28090,28093,28088,28091,28089,28090,28092,28087,28091,
28089,28093,28088,28090,28092,28087,28091,28089,28090,28093,28088,28091,28087,28092,28089,28090,28088,28091,28093,28087,
28090,28092,28089,28088,28091,28090,28093,28087,28089,28092,28090,28088,28091,28089,28093,28087,28090,28092,28088,28091];
const memTCP = [16866,16870,16864,16868,16871,16865,16869,16863,16867,16872,16866,16870,16864,16868,16865,16871,16867,16863,16869,16872,
16866,16864,16870,16868,16865,16871,16867,16863,16869,16866,16872,16864,16870,16868,16884,16888,16881,16885,16889,16883,
16887,16882,16886,16890,16884,16881,16888,16885,16883,16887,16882,16889,16884,16886,16881,16888,16885,16883,16870,16866,
16868,16872,16865,16869,16867,16871,16864,16870,16866,16868,16872,16865,16869,16867,16863,16870,16866,16868,16872,16865,
16869,16867,16871,16864,16870,16866,16868,16872,16865,16869,16867,16871,16846,16842,16848,16844,16840,16846,16843,16849,
16845,16841,16847,16843,16849,16845,16841,16847,16844,16848,16842,16846,16843,16849,16845,16841,16847,16843,16848,16844,
16846,16842,16848,16844,16840,16846,16843,16849,16845,16841,16847,16843,16849,16845,16841,16847,16844,16848,16842,16846,
16845,16850,16855,16851,16857,16853,16849,16855,16851,16857,16853,16849,16855,16851,16857,16853,16849,16855,16851,16857,
16853,16849,16855,16851,16862,16866,16861,16867,16863,16859,16865,16861,16867,16863,16859,16865,16861,16867,16863,16859,
16865,16861,16867,16863,16869,16865,16861,16867,16863,16869,16865,16870,16866,16862,16868,16864,16870,16866,16862,16868];
const memUDP = [16862,16858,16865,16860,16857,16863,16859,16866,16861,16856,16864,16860,16858,16865,16861,16857,16863,16859,16866,16860,
16858,16864,16861,16857,16863,16859,16862,16870,16866,16861,16868,16864,16869,16865,16886,16882,16888,16884,16880,16887,
16883,16889,16885,16881,16887,16884,16890,16886,16882,16888,16884,16880,16887,16883,16889,16885,16881,16886,16866,16862,
16868,16864,16870,16866,16862,16868,16864,16869,16865,16861,16867,16863,16869,16865,16861,16867,16863,16869,16865,16861,
16867,16863,16869,16865,16861,16867,16863,16869,16865,16861,16867,16863,16843,16839,16845,16841,16837,16843,16839,16845,
16841,16837,16843,16839,16845,16841,16837,16843,16839,16845,16841,16837,16843,16839,16845,16841,16837,16843,16839,16845,
16841,16837,16843,16839,16845,16841,16837,16843,16839,16845,16841,16837,16843,16839,16845,16841,16837,16843,16839,16845,
16841,16846,16852,16848,16854,16850,16846,16852,16848,16854,16850,16846,16852,16848,16854,16850,16846,16852,16848,16854,
16850,16846,16852,16848,16858,16862,16857,16863,16859,16855,16861,16857,16863,16859,16855,16861,16857,16863,16859,16855,
16861,16857,16863,16859,16855,16861,16857,16863,16859,16855,16861,16857,16863,16859,16855,16861,16857,16863,16859,16862];
const memZeroMQ = [28617,28620,28615,28618,28621,28616,28619,28614,28620,28617,28615,28619,28622,28616,28618,28565,28560,28628,28632,28626,
28583,28580,28586,28582,28579,28585,28581,28584,28578,28583,28587,28580,28584,28582,28579,28586,28581,28583,28585,28580,
28584,28582,28578,28586,28581,28618,28625,28622,28628,28624,28630,28621,28627,28623,28629,28645,28583,28580,28586,28582,
28579,28585,28581,28584,28578,28583,28625,28630,28627,28623,28629,28626,28631,28624,28628,28622,28627,28583,28580,28586,
28582,28579,28585,28581,28584,28578,28583,28587,28580,28584,28582,28579,28630,28627,28633,28629,28626,28632,28628,28631,
28627,28633,28629,28626,28632,28563,28583,28580,28586,28582,28579,28585,28630,28627,28633,28629,28626,28632,28628,28631,
28627,28633,28629,28626,28632,28628,28655,28658,28652,28660,28654,28657,28651,28659,28630,28627,28633,28629,28626,28632,
28628,28631,28627,28633,28629,28626,28632,28628,28631,28627,28633,28629,28626,28632,28628,28631,28627,28633,28629,28626,
28632,28628,28631,28627,28633,28629,28626,28632,28628,28631,28627,28633,28629,28626,28632,28628,28631,28627,28633,28629,
28626,28632,28628,28631,28627,28633,28629,28626,28632,28628,28631,28627,28633,28629,28626,28632,28628,28631,28627,28630];
const memWebSockets = [18560,18565,18562,18567,18563,18566,18561,18564,18568,18562,18565,18563,18567,18561,18564,18566,18562,18300,18296,18302,
18298,18200,18196,18202,18198,18201,18197,18203,18199,18195,18200,18204,18198,18201,18197,18202,18199,18196,18203,18200,
18197,18201,18198,18204,18200,18196,18202,18199,18201,18197,18203,18200,18196,18202,18198,18201,18197,18203,18246,18242,
18248,18244,18250,18245,18241,18247,18243,18249,18245,18242,18248,18244,18250,18246,18243,18249,18245,18241,18247,18244,
18250,18246,18243,18248,18244,18250,18246,18242,18300,18296,18302,18298,18301,18297,18303,18299,18295,18300,18304,18298,
18301,18297,18302,18299,18296,18303,18300,18297,18301,18298,18304,18300,18296,18302,18298,18301,18297,18303,18299,18295,
18300,18304,18298,18301,18297,18302,18299,18296,18303,18300,18297,18301,18298,18304,18300,18296,18302,18298,18301,18297,
18303,18299,18295,18300,18304,18298,18301,18297,18302,18299,18296,18303,18350,18346,18352,18348,18345,18351,18347,18353,
18349,18345,18351,18348,18352,18346,18350,18347,18365,18362,18367,18363,18366,18361,18368,18364,18360,18366,18362,18368,
18365,18361,18367,18363,18366,18362,18368,18364,18360,18366,18363,18367,18361,18365,18362,18368,18364,18360,18366,18363];

const latency = [latAMQP, latMQTT, latCoAP, latHTTP, latOPCUA, latTCP, latUDP, latZeroMQ, latWebSockets];
const throughput = [tpAMQP, tpMQTT, tpCoAP, tpHTTP, tpOPCUA, tpTCP, tpUDP, tpZeroMQ, tpWebSockets];
const cpu = [cpuAMQP, cpuMQTT, cpuCoAP, cpuHTTP, cpuOPCUA, cpuTCP, cpuUDP, cpuZeroMQ, cpuWebSockets];
const memory = [memAMQP, memMQTT, memCoAP, memHTTP, memOPCUA, memTCP, memUDP, memZeroMQ, memWebSockets];

// ---------- drawing ----------
const svg = d3.select("#chart");
svg.selectAll("*").remove();
svg.append("rect").attr("width", 1990).attr("height", 1490).attr("fill", "#fff");

const MS = 6;          // marker size in px
const LW = 2.4;        // line width
const GRID = "#b0b0b0";

// matplotlib-like marker shapes, centred at 0,0
function markerPath(m, s) {
  const r = s / 2;
  if (m === "o") return `M${r},0A${r},${r} 0 1,1 ${-r},0A${r},${r} 0 1,1 ${r},0Z`;
  if (m === "s") return `M${-r},${-r}H${r}V${r}H${-r}Z`;
  if (m === "D") { const d = r * Math.SQRT2; return `M0,${-d}L${d},0L0,${d}L${-d},0Z`; }
  if (m === "^") return `M0,${-r}L${r},${r}L${-r},${r}Z`;
  if (m === "v") return `M0,${r}L${r},${-r}L${-r},${-r}Z`;
  if (m === "<") return `M${-r},0L${r},${-r}L${r},${r}Z`;
  if (m === ">") return `M${r},0L${-r},${-r}L${-r},${r}Z`;
  if (m === "p") {
    return d3.range(5).map(i => {
      const a = -Math.PI / 2 + i * 2 * Math.PI / 5;
      return (i ? "L" : "M") + (r * Math.cos(a)) + "," + (r * Math.sin(a));
    }).join("") + "Z";
  }
  // star
  return d3.range(10).map(i => {
    const a = -Math.PI / 2 + i * Math.PI / 5;
    const rr = i % 2 ? r * 0.382 : r;
    return (i ? "L" : "M") + (rr * Math.cos(a)) + "," + (rr * Math.sin(a));
  }).join("") + "Z";
}

function padded(lo, hi) {
  const m = (hi - lo) * 0.05;
  return [lo - m, hi + m];
}

function drawSeries(g, x, y, values, xs, i) {
  const pts = values.map((v, k) => [x(xs[k]), y(v)]);
  g.append("path")
    .attr("d", d3.line()(pts))
    .attr("fill", "none")
    .attr("stroke", protoColors[i])
    .attr("stroke-width", LW)
    .attr("stroke-linejoin", "round");
  g.append("g").selectAll("path")
    .data(pts)
    .join("path")
    .attr("transform", d => `translate(${d[0]},${d[1]})`)
    .attr("d", markerPath(protoMarkers[i], MS))
    .attr("fill", protoColors[i])
    .attr("stroke", protoColors[i])
    .attr("stroke-width", 1.2);
}

function drawLegend(g, right, top) {
  const w = 161, h = 241, x0 = right - w;
  g.append("rect")
    .attr("x", x0).attr("y", top).attr("width", w).attr("height", h).attr("rx", 3)
    .attr("fill", "#fff").attr("fill-opacity", 0.8)
    .attr("stroke", "#cccccc").attr("stroke-opacity", 0.8).attr("stroke-width", 1.2);
  protocols.forEach((name, i) => {
    const cy = top + 13.7 + i * 26.3;
    g.append("line")
      .attr("x1", x0 + 6).attr("x2", x0 + 40.5).attr("y1", cy).attr("y2", cy)
      .attr("stroke", protoColors[i]).attr("stroke-width", LW);
    g.append("path")
      .attr("transform", `translate(${x0 + 23.3},${cy})`)
      .attr("d", markerPath(protoMarkers[i], MS))
      .attr("fill", protoColors[i]).attr("stroke", protoColors[i]).attr("stroke-width", 1.2);
    g.append("text")
      .attr("x", x0 + 54).attr("y", cy + 5.8)
      .attr("font-size", "16px").attr("fill", "#000")
      .text(name);
  });
}

const sampleIdx = d3.range(1, 201);

const panels = [
  { id: "lat", title: "Latency over Data Samples", ylabel: "Latency (ms)", data: latency, yTicks: latencyTicks,
    left: 96.8, right: 989.9, top: 34.5, bottom: 685, ylabelX: 26, legend: "upper" },
  { id: "tp", title: "Throughput over Data Samples", ylabel: "Throughput (units/time)", data: throughput, yTicks: throughputTicks,
    left: 1090, right: 1981, top: 34.5, bottom: 685, ylabelX: 1038, legend: "lower" },
  { id: "cpu", title: "CPU Usage over Data Samples", ylabel: "CPU Usage (%)", data: cpu, yTicks: cpuTicks,
    left: 96.8, right: 989.9, top: 777.5, bottom: 1428.5, ylabelX: 46, legend: "upper", inset: true },
  { id: "mem", title: "Memory Usage over Data Samples", ylabel: "Memory Usage (MB)", data: memory, yTicks: memoryTicks,
    left: 1090, right: 1981, top: 777.5, bottom: 1428.5, ylabelX: 1017, legend: "center" }
];

panels.forEach(p => {
  const g = svg.append("g");
  const all = p.data.flat();
  const x = d3.scaleLinear().domain(padded(1, 200)).range([p.left, p.right]);
  const y = d3.scaleLinear().domain(padded(d3.min(all), d3.max(all))).range([p.bottom, p.top]);

  // grid
  g.append("g").selectAll("line").data(xTicks).join("line")
    .attr("x1", d => x(d)).attr("x2", d => x(d)).attr("y1", p.top).attr("y2", p.bottom)
    .attr("stroke", GRID).attr("stroke-width", 1.28);
  g.append("g").selectAll("line").data(p.yTicks).join("line")
    .attr("x1", p.left).attr("x2", p.right).attr("y1", d => y(d)).attr("y2", d => y(d))
    .attr("stroke", GRID).attr("stroke-width", 1.28);

  // series, clipped to the axes box
  g.append("clipPath").attr("id", "clip-" + p.id)
    .append("rect").attr("x", p.left).attr("y", p.top)
    .attr("width", p.right - p.left).attr("height", p.bottom - p.top);
  const plot = g.append("g").attr("clip-path", `url(#clip-${p.id})`);
  p.data.forEach((vals, i) => drawSeries(plot, x, y, vals, sampleIdx, i));

  // spines
  g.append("rect")
    .attr("x", p.left).attr("y", p.top).attr("width", p.right - p.left).attr("height", p.bottom - p.top)
    .attr("fill", "none").attr("stroke", "#000").attr("stroke-width", 1.28);

  // axes
  const xAxis = g.append("g").attr("transform", `translate(0,${p.bottom})`)
    .call(d3.axisBottom(x).tickValues(xTicks).tickSize(5.6).tickPadding(5.5).tickFormat(d3.format("d")));
  const yAxis = g.append("g").attr("transform", `translate(${p.left},0)`)
    .call(d3.axisLeft(y).tickValues(p.yTicks).tickSize(5.6).tickPadding(5.5).tickFormat(d3.format("d")));
  [xAxis, yAxis].forEach(a => {
    a.select(".domain").remove();
    a.selectAll(".tick line").attr("stroke", "#000").attr("stroke-width", 1.28);
    a.selectAll(".tick text").attr("font-size", "16px").attr("font-family", "DejaVu Sans").attr("fill", "#000");
  });

  // titles and labels
  g.append("text")
    .attr("x", (p.left + p.right) / 2).attr("y", p.top - 9)
    .attr("text-anchor", "middle").attr("font-size", "22.4px").text(p.title);
  g.append("text")
    .attr("x", (p.left + p.right) / 2).attr("y", p.bottom + 48)
    .attr("text-anchor", "middle").attr("font-size", "19.2px").text("Data Sample");
  g.append("text")
    .attr("transform", `translate(${p.ylabelX},${(p.top + p.bottom) / 2}) rotate(-90)`)
    .attr("text-anchor", "middle").attr("font-size", "19.2px").text(p.ylabel);

  if (p.inset) drawInset(svg, x, y, p.yTicks);

  // legend
  const lg = svg.append("g");
  if (p.legend === "upper") drawLegend(lg, p.right - 10.6, p.top + 9.5);
  else if (p.legend === "lower") drawLegend(lg, p.right - 10.6, p.bottom - 9.5 - 241);
  else drawLegend(lg, p.right - 10.6, (p.top + p.bottom) / 2 - 120.5);
});

// inset with the last five CPU samples
function drawInset(root, mainX, mainY, mainYTicks) {
  const box = { left: 104, right: 460, top: 784, bottom: 979 };
  const last = cpu.map(s => s.slice(-5));
  const all = last.flat();
  const x = d3.scaleLinear().domain(padded(196, 200)).range([box.left, box.right]);
  const y = d3.scaleLinear().domain(padded(d3.min(all), d3.max(all))).range([box.bottom, box.top]);
  const g = root.append("g");

  g.append("rect")
    .attr("x", box.left).attr("y", box.top).attr("width", box.right - box.left).attr("height", box.bottom - box.top)
    .attr("fill", "#fff");

  g.append("clipPath").attr("id", "clip-inset")
    .append("rect").attr("x", box.left).attr("y", box.top)
    .attr("width", box.right - box.left).attr("height", box.bottom - box.top);

  // the main plot's grid still shows through the inset
  const under = g.append("g").attr("clip-path", "url(#clip-inset)");
  under.selectAll(".mx").data(xTicks).join("line")
    .attr("x1", d => mainX(d)).attr("x2", d => mainX(d)).attr("y1", box.top).attr("y2", box.bottom)
    .attr("stroke", GRID).attr("stroke-width", 1.28);
  under.selectAll(".my").data(mainYTicks).join("line")
    .attr("x1", box.left).attr("x2", box.right).attr("y1", d => mainY(d)).attr("y2", d => mainY(d))
    .attr("stroke", GRID).attr("stroke-width", 1.28);

  g.append("g").selectAll("line").data(insetXTicks).join("line")
    .attr("x1", d => x(d)).attr("x2", d => x(d)).attr("y1", box.top).attr("y2", box.bottom)
    .attr("stroke", GRID).attr("stroke-width", 1.28);
  g.append("g").selectAll("line").data(insetYTicks).join("line")
    .attr("x1", box.left).attr("x2", box.right).attr("y1", d => y(d)).attr("y2", d => y(d))
    .attr("stroke", GRID).attr("stroke-width", 1.28);

  const plot = g.append("g").attr("clip-path", "url(#clip-inset)");
  last.forEach((vals, i) => drawSeries(plot, x, y, vals, insetXTicks, i));

  g.append("rect")
    .attr("x", box.left).attr("y", box.top).attr("width", box.right - box.left).attr("height", box.bottom - box.top)
    .attr("fill", "none").attr("stroke", "#000").attr("stroke-width", 1.28);

  const xa = g.append("g").attr("transform", `translate(0,${box.bottom})`)
    .call(d3.axisBottom(x).tickValues(insetXTicks).tickSize(5.6).tickPadding(4.5).tickFormat(d3.format("d")));
  const ya = g.append("g").attr("transform", `translate(${box.left},0)`)
    .call(d3.axisLeft(y).tickValues(insetYTicks).tickSize(5.6).tickPadding(4.5).tickFormat(d3.format("d")));
  [xa, ya].forEach(a => {
    a.select(".domain").remove();
    a.selectAll(".tick line").attr("stroke", "#000").attr("stroke-width", 1.28);
    a.selectAll(".tick text").attr("font-size", "13px").attr("font-family", "DejaVu Sans").attr("fill", "#000");
  });

  g.append("text")
    .attr("x", (box.left + box.right) / 2).attr("y", box.top - 9)
    .attr("text-anchor", "middle").attr("font-size", "13.7px").text("Zoomed in (Samples 195-200)");
}
</script>
</body>
</html>
